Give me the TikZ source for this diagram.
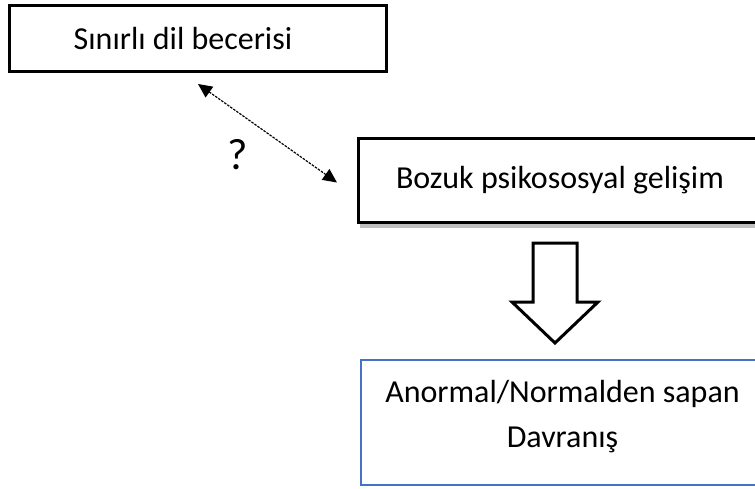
\documentclass[tikz,border=0pt]{standalone}
\usepackage{fontspec}
\setmainfont{Carlito}
\usepackage{tikz}
\usetikzlibrary{arrows.meta, positioning, calc, shadows}
\definecolor{dgBlue}{HTML}{4472C4}
\definecolor{dgBlack}{HTML}{000000}

\begin{document}
\begin{tikzpicture}[x=1pt, y=-1pt, every node/.style={font=\fontsize{32}{45}\selectfont}]
        \useasboundingbox (0,0) rectangle (755,488);
        \node[draw=dgBlack, line width=3pt, minimum width=377pt,
              minimum height=66pt, inner sep=0pt] (sinirli) at (198,38.5) {Sınırlı dil becerisi\kern30pt};
        \node[draw=dgBlack, line width=3pt, fill=white, minimum width=403pt,
              minimum height=84pt, inner sep=0pt,
              drop shadow={shadow xshift=1pt, shadow yshift=-5pt, opacity=.25, fill=black}] (bozuk) at (560,180.5) {Bozuk psikososyal gelişim};
        \node[draw=dgBlue, line width=2pt, minimum width=403pt, text depth=18pt,
              minimum height=125pt, inner sep=0pt, align=center] (anormal) at (562.5,422.5) {Anormal/Normalden sapan\\Davranış};
        \node[font=\fontsize{44}{50}\selectfont] (soru) at (238,155) {?};
        \draw[{Triangle[length=14pt, width=13pt]}-{Triangle[length=14pt, width=13pt]},
              line width=1.2pt, dash pattern=on 2.5pt off 1.2pt]
              ([yshift=-11pt]sinirli.south) -- ([xshift=-20pt, yshift=-2pt]bozuk.west);
        % block arrow between bozuk and anormal
        \draw[line width=3pt, fill=white, miter limit=10]
              (533,243) -- (533,302) -- (512,302) -- (555,343) -- (598,302)
              -- (577,302) -- (577,243) -- cycle;
      \end{tikzpicture}
\end{document}
